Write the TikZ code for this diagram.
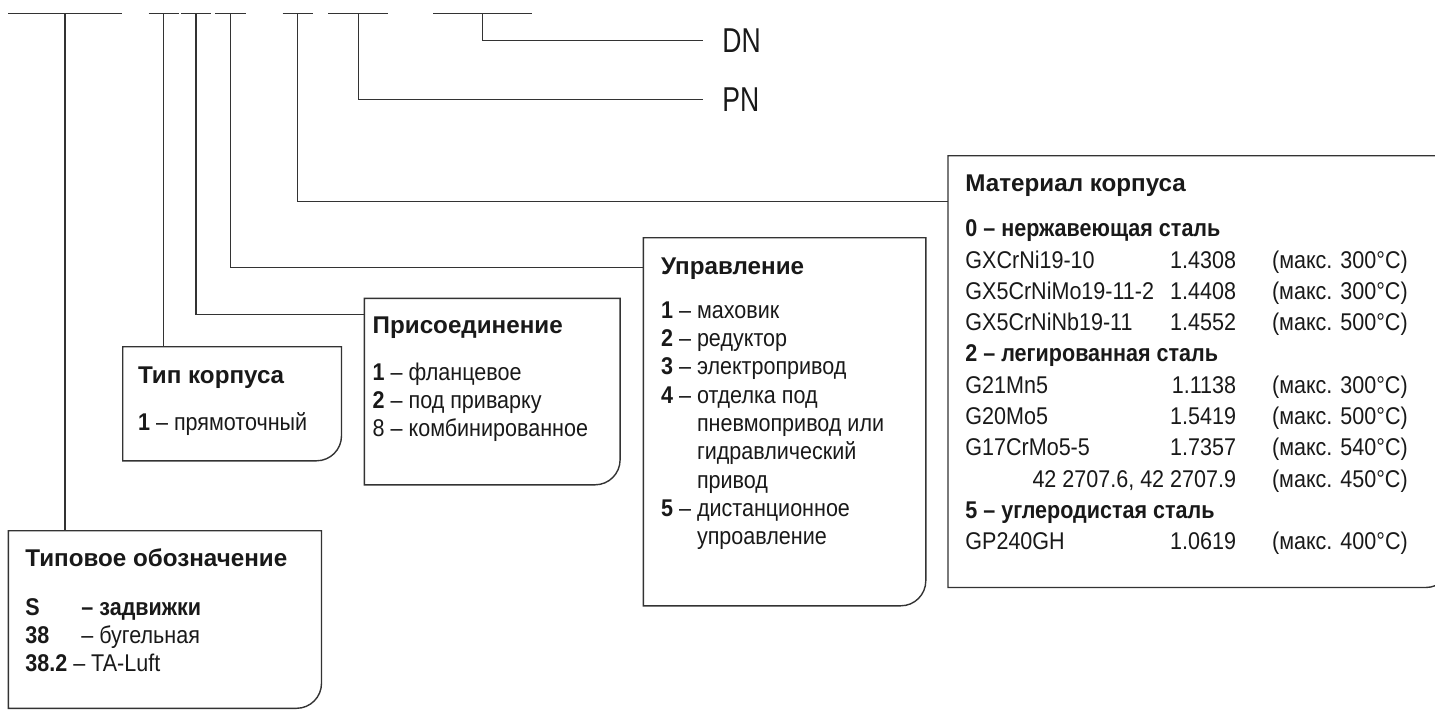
\documentclass[tikz,border=0pt]{standalone}
\usepackage{fontspec}
\setmainfont{Liberation Sans}
\newfontfamily\bodyf[FakeStretch=0.89]{Liberation Sans}
\newfontfamily\titlef{Liberation Sans}
\newfontfamily\labelf[FakeStretch=0.77]{Liberation Sans}
\usepackage{tikz}
\usetikzlibrary{arrows, positioning}
\usepackage{xcolor}

\newcommand{\cardframe}[1]{%
  \draw[frame] (#1.north west) -- (#1.north east) -- ([yshift=12.5pt]#1.south east)
    arc[start angle=0, end angle=-90, radius=12.5pt] -- (#1.south west) -- cycle;}
\newcommand{\matrow}[3]{\makebox[102pt][l]{#1}\makebox[33.35pt][r]{#2}\hspace{18pt}#3}
\newcommand{\cardtitle}[1]{{\titlef\bfseries #1}}
\newcommand{\cardlines}[1]{\begin{tabular}[t]{@{}l@{}}#1\end{tabular}}

\begin{document}
\begin{tikzpicture}[x=0.5pt,y=-0.5pt]
    \tikzstyle{card}=[shape=rectangle,inner sep=0pt,anchor=north west]
    \tikzstyle{frame}=[draw=black!80,line width=0.7pt]
    \tikzstyle{link}=[draw=black!80,line width=0.7pt]
    \tikzstyle{cardtext}=[inner sep=0pt,anchor=base west,text=black!90,font=\bodyf\fontsize{12.1}{14.15}\selectfont]
    \tikzstyle{tag}=[inner sep=9.35pt,anchor=west,text=black!90,font=\labelf\fontsize{17.25}{20}\selectfont]

    \useasboundingbox (0,0) rectangle (1435,709);

    % top bar
    \coordinate (s1) at (65,13.7);
    \coordinate (s2) at (163.7,13.7);
    \coordinate (s3) at (196,13.7);
    \coordinate (s4) at (230.3,13.7);
    \coordinate (s5) at (297.7,13.7);
    \coordinate (s6) at (358.3,13.7);
    \coordinate (s7) at (482.3,13.7);

    \path[link]
    ([xshift=-28.35pt]s1) -- ([xshift=28.35pt]s1)
    ([xshift=-7.5pt]s2) -- ([xshift=7.5pt]s2)
    ([xshift=-7.5pt]s3) -- ([xshift=7.5pt]s3)
    ([xshift=-7.65pt]s4) -- ([xshift=7.65pt]s4)
    ([xshift=-7.5pt]s5) -- ([xshift=7.5pt]s5)
    ([xshift=-15pt]s6) -- ([xshift=15pt]s6)
    ([xshift=-24.65pt]s7) -- ([xshift=24.65pt]s7);

    \node[tag] (dn) at (703.3,40.3) {DN};
    \node[tag] (pn) at (703.3,99.3) {PN};

    % boxes
    \node[card, minimum width=156.2pt, minimum height=88.4pt] (typ) at (8.3,530.7) {};
    \node[card, minimum width=109pt, minimum height=56.65pt] (korp) at (122.7,346.7) {};
    \node[card, minimum width=127.5pt, minimum height=92.85pt] (pris) at (364.3,298.3) {};
    \node[card, minimum width=140.85pt, minimum height=183.65pt] (upr) at (643.3,237.7) {};
    \node[card, minimum width=251pt, minimum height=215.5pt] (mat) at (948,155.7) {};

    \cardframe{typ}
    \cardframe{korp}
    \cardframe{pris}
    \cardframe{upr}
    \cardframe{mat}

    \node[cardtext] (typ-t) at ([xshift=8.35pt,yshift=-18pt]typ.north west) {\cardlines{%
      \cardtitle{Типовое обозначение}\\[10pt]
      \makebox[28pt][l]{\textbf{S}}\textbf{– задвижки}\\
      \makebox[28pt][l]{\textbf{38}}– бугельная\\
      \textbf{38.2} – TA-Luft}};

    \node[cardtext] (korp-t) at ([xshift=7.5pt,yshift=-18.3pt]korp.north west) {\cardlines{%
      \cardtitle{Тип корпуса}\\[9.2pt]
      \textbf{1} – прямоточный}};

    \node[cardtext] (pris-t) at ([xshift=4pt,yshift=-17.5pt]pris.north west) {\cardlines{%
      \cardtitle{Присоединение}\\[9.2pt]
      \textbf{1} – фланцевое\\
      \textbf{2} – под приварку\\
      8 – комбинированное}};

    \node[cardtext] (upr-t) at ([xshift=8.7pt,yshift=-18.15pt]upr.north west) {\cardlines{%
      \cardtitle{Управление}\\[8pt]
      \textbf{1} – маховик\\
      \textbf{2} – редуктор\\
      \textbf{3} – электропривод\\
      \textbf{4} – отделка под\\
      \phantom{\textbf{4} – }пневмопривод или\\
      \phantom{\textbf{4} – }гидравлический\\
      \phantom{\textbf{4} – }привод\\
      \textbf{5} – дистанционное\\
      \phantom{\textbf{5} – }упроавление}};

    \node[cardtext, font=\bodyf\fontsize{12.1}{15.65}\selectfont] (mat-t) at ([xshift=8.5pt,yshift=-18pt]mat.north west) {\cardlines{%
      \cardtitle{Материал корпуса}\\[6.85pt]
      \textbf{0 – нержавеющая сталь}\\
      \matrow{GXCrNi19-10}{1.4308}{(макс. 300°C)}\\
      \matrow{GX5CrNiMo19-11-2}{1.4408}{(макс. 300°C)}\\
      \matrow{GX5CrNiNb19-11}{1.4552}{(макс. 500°C)}\\
      \textbf{2 – легированная сталь}\\
      \matrow{G21Mn5}{1.1138}{(макс. 300°C)}\\
      \matrow{G20Mo5}{1.5419}{(макс. 500°C)}\\
      \matrow{G17CrMo5-5}{1.7357}{(макс. 540°C)}\\
      \makebox[135.35pt][r]{42 2707.6, 42 2707.9}\hspace{18pt}(макс. 450°C)\\
      \textbf{5 – углеродистая сталь}\\
      \matrow{GP240GH}{1.0619}{(макс. 400°C)}}};

    % connectors
    \path[link]
    (s1) -- (s1 |- typ.north)
    (s2) -- (s2 |- korp.north)
    (s3) |- ([yshift=-8pt]pris.north west)
    (s4) |- ([yshift=-14.8pt]upr.north west)
    (s5) |- ([yshift=-23pt]mat.north west)
    (s6) |- (pn.west)
    (s7) |- (dn.west);
\end{tikzpicture}
\end{document}
